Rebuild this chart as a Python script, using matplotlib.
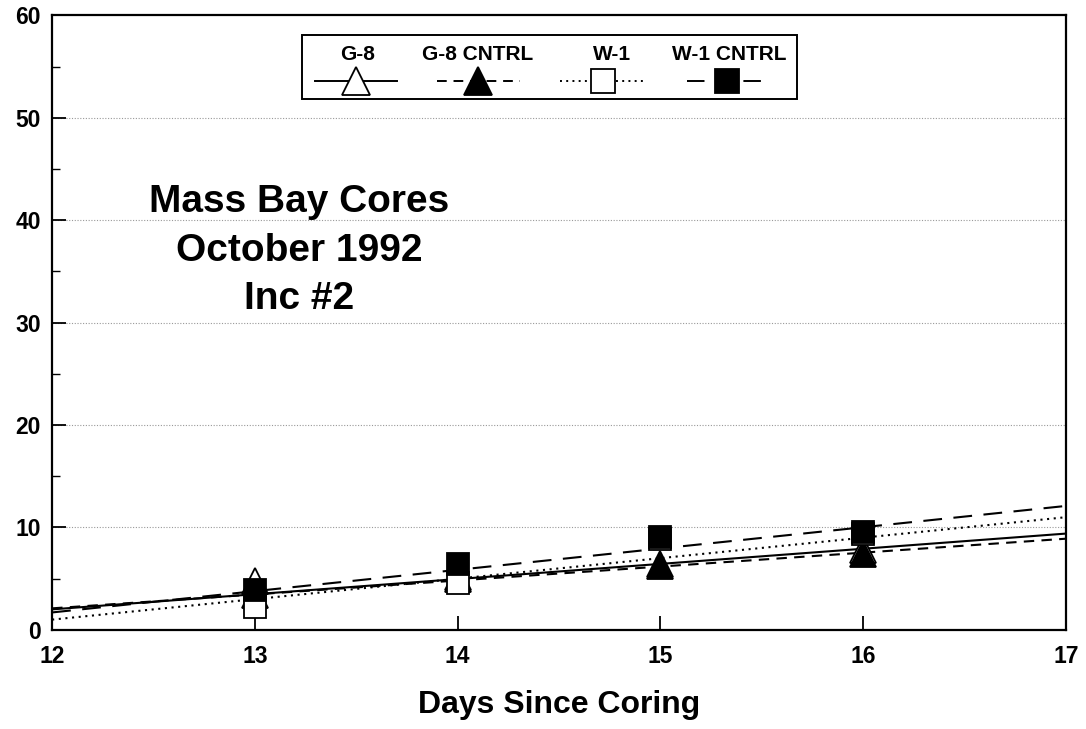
import numpy as np
import matplotlib.pyplot as plt
from matplotlib.patches import Rectangle
from matplotlib.ticker import MultipleLocator

plt.rcParams['font.family'] = ['Liberation Sans', 'DejaVu Sans']
plt.rcParams['font.weight'] = 'bold'

days = [13, 14, 15, 16]
series_names = ["G-8", "G-8 CNTRL", "W-1", "W-1 CNTRL"]

g8 = [4.8, 5.0, 6.4, 7.8]
g8_cntrl = [3.4, 5.2, 6.2, 7.4]
w1 = [2.2, 4.6, 8.9, 9.4]
w1_cntrl = [3.9, 6.4, 9.1, 9.6]

# fitted trend lines, value at the start and end of the day axis
trend_days = [12, 17]
g8_trend = [2.0, 9.4]
g8_cntrl_trend = [2.1, 8.9]
w1_trend = [1.0, 11.0]
w1_cntrl_trend = [1.7, 12.1]

values = [g8, g8_cntrl, w1, w1_cntrl]
trends = [g8_trend, g8_cntrl_trend, w1_trend, w1_cntrl_trend]

markers = ['^', '^', 's', 's']
faces = ['white', 'black', 'white', 'black']
msizes = [19, 19, 16, 16]
styles = ['-', (0, (5, 3.5)), (0, (1, 2.2)), (0, (9, 5.5))]

fig = plt.figure(figsize=(10.86, 7.29), dpi=100)
ax = fig.add_axes([0.048, 0.136, 0.9336, 0.843])

for vals, tr, m, fc, ms, ls in zip(values, trends, markers, faces, msizes, styles):
    ax.plot(trend_days, tr, color='black', lw=1.5, linestyle=ls, zorder=2)
    ax.plot(days, vals, linestyle='none', marker=m, markersize=ms,
            markerfacecolor=fc, markeredgecolor='black', markeredgewidth=1.3, zorder=3)

ax.set_xlim(12, 17)
ax.set_ylim(0, 60)
ax.xaxis.set_major_locator(MultipleLocator(1))
ax.yaxis.set_major_locator(MultipleLocator(10))
ax.yaxis.set_minor_locator(MultipleLocator(5))
ax.tick_params(which='major', direction='in', length=10, width=1.3, labelsize=16.5, pad=8)
ax.tick_params(which='minor', direction='in', length=6, width=1.0)
ax.tick_params(axis='x', pad=11)
for lab in ax.get_xticklabels() + ax.get_yticklabels():
    lab.set_fontweight('bold')
for sp in ax.spines.values():
    sp.set_linewidth(1.6)

for yv in range(10, 60, 10):
    ax.axhline(yv, color='0.6', lw=0.8, linestyle=(0, (1, 1.5)), zorder=1)

ax.set_xlabel("Days Since Coring", fontsize=23, fontweight='bold', labelpad=16)

ax.text(13.22, 37.0, "Mass Bay Cores\nOctober 1992\nInc #2", fontsize=28,
        fontweight='bold', ha='center', va='center', multialignment='center',
        linespacing=1.45)

# legend drawn by hand: label above a short line with its marker
ax.add_patch(Rectangle((0.2465, 0.8634), 0.4882, 0.1041, transform=ax.transAxes,
                       facecolor='white', edgecolor='black', lw=1.4, zorder=4))
label_x = [0.3008, 0.4201, 0.5523, 0.6677]
line_x = [(0.2594, 0.3402), (0.3797, 0.4615), (0.501, 0.5828), (0.6262, 0.7081)]
marker_x = [0.2998, 0.4201, 0.5434, 0.6657]
for name, lx, (x0, x1), mx, m, fc, ms, ls in zip(series_names, label_x, line_x, marker_x,
                                                  markers, faces, msizes, styles):
    ax.text(lx, 0.936, name, transform=ax.transAxes, fontsize=15, fontweight='bold',
            ha='center', va='center', zorder=5)
    ax.plot([x0, x1], [0.893, 0.893], transform=ax.transAxes, color='black',
            lw=1.4, linestyle=ls, zorder=5)
    ax.plot([mx], [0.893], transform=ax.transAxes, marker=m, markersize=ms + 1,
            markerfacecolor=fc, markeredgecolor='black', markeredgewidth=1.3,
            linestyle='none', zorder=6)

fig.savefig("out.png", dpi=100)
